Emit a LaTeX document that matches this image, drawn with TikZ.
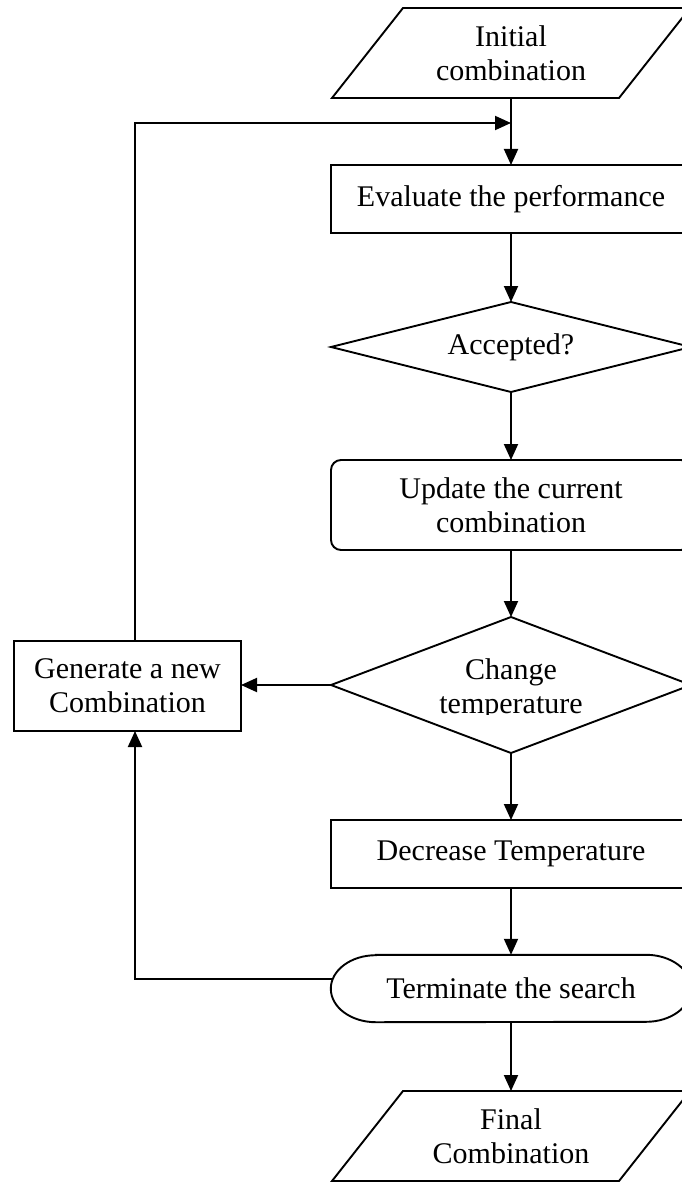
\documentclass[tikz,border=0pt]{standalone}
\usepackage{fontspec}
\setmainfont{Liberation Serif}
\usetikzlibrary{shapes.geometric,arrows.meta,calc}
\newcommand\flowfont{\fontsize{30}{34}\selectfont}
\begin{document}
\begin{tikzpicture}[x=1pt,y=1pt,
  lw/.style={line width=1.9pt},
  shp/.style={lw, draw, font=\flowfont, inner sep=0pt, align=center, outer sep=0pt},
  procbox/.style={shp, rectangle, minimum width=360pt, minimum height=68pt},
  decbox/.style={shp, diamond, aspect=4, minimum width=360pt},
  iotext/.style={font=\flowfont, inner sep=0pt, align=center, outer sep=0pt,
     minimum width=358pt, minimum height=90pt},
  arr/.style={lw, -{Triangle[length=16pt,width=14pt]}}]
\useasboundingbox (0,0) rectangle (681,-1182);

\node[iotext] (init) at (511,-53) {Initial\\combination};
\draw[lw] ([xshift=71pt]init.north west) -- (init.north east)
  -- ([xshift=-71pt]init.south east) -- (init.south west) -- cycle;
\node[procbox] (eval) at (511,-199) {Evaluate the performance};
\node[decbox, minimum height=90pt] (acc) at (511,-347) {Accepted?};
\node[procbox, minimum height=90pt, rounded corners=10pt] (upd) at (511,-505) {Update the current\\combination};
\node[decbox, minimum height=136pt] (chg) at (511,-685) {};
\begin{scope}
  \clip (300,-600) rectangle (700,-714);
  \node[font=\flowfont, align=center, inner sep=0pt] (chgtxt) at (511,-689) {Change\\temperature};
\end{scope}
\node[shp, rectangle, minimum width=227pt, minimum height=90pt] (gen) at (127.5,-686) {Generate a new\\Combination};
\node[procbox] (dec) at (511,-854) {Decrease Temperature};
\node[font=\flowfont, inner sep=0pt, minimum width=360pt, minimum height=67pt] (term) at (511,-988.5) {Terminate the search};
\draw[lw] ([xshift=45pt]term.north west) -- ([xshift=-45pt]term.north east)
  arc[start angle=90, end angle=-90, x radius=45pt, y radius=33.5pt]
  -- ([xshift=45pt]term.south west)
  arc[start angle=270, end angle=90, x radius=45pt, y radius=33.5pt] -- cycle;
\node[iotext] (fin) at (511,-1136) {Final\\Combination};
\draw[lw] ([xshift=71pt]fin.north west) -- (fin.north east)
  -- ([xshift=-71pt]fin.south east) -- (fin.south west) -- cycle;

\coordinate (join) at (511,-123);
\draw[arr] (init.south) -- (eval.north);
\draw[arr] (eval.south) -- (acc.north);
\draw[arr] (acc.south) -- (upd.north);
\draw[arr] (upd.south) -- (chg.north);
\draw[arr] (chg.south) -- (dec.north);
\draw[arr] (dec.south) -- (term.north);
\draw[arr] (term.south) -- (fin.north);
\draw[arr] (chg.west) -- (chg.west -| gen.east);
\draw[arr] ([xshift=7.5pt]gen.north) |- (join);
\draw[arr] ([xshift=2pt,yshift=9.5pt]term.west) -| ([xshift=7.5pt]gen.south);
\end{tikzpicture}
\end{document}
